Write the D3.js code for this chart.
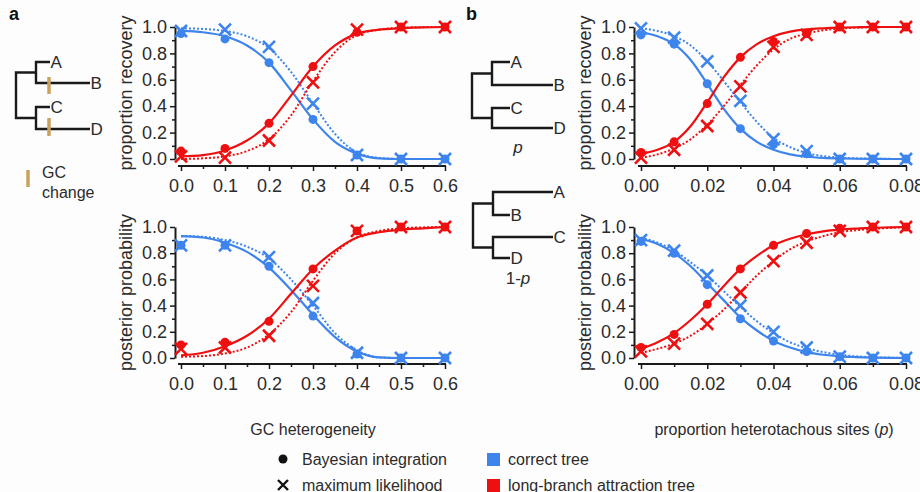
<!DOCTYPE html>
<html><head><meta charset="utf-8">
<script src="https://cdn.jsdelivr.net/npm/d3@7/dist/d3.min.js"></script>
<style>
body{margin:0;background:#fff;}
svg text{font-family:"Liberation Sans",Arial,Helvetica,sans-serif;}
</style>
</head><body>
<svg id="chart" width="920" height="492"></svg>
<script>
// ---------- data ----------
const gcLevels = [0, 0.1, 0.2, 0.3, 0.4, 0.5, 0.6];
const gcTicks = [0, 0.1, 0.2, 0.3, 0.4, 0.5, 0.6];
const hetLevels = [0, 0.01, 0.02, 0.03, 0.04, 0.05, 0.06, 0.07, 0.08];
const hetTicks = [0, 0.02, 0.04, 0.06, 0.08];
const yTicks = [0, 0.2, 0.4, 0.6, 0.8, 1.0];

// panel a, proportion recovery
const gcRecCorrectBI = [0.95, 0.91, 0.73, 0.30, 0.03, 0.0, 0.0];
const gcRecCorrectML = [0.97, 0.98, 0.85, 0.42, 0.03, 0.0, 0.0];
const gcRecLbaBI     = [0.06, 0.08, 0.27, 0.70, 0.96, 1.0, 1.0];
const gcRecLbaML     = [0.02, 0.01, 0.14, 0.58, 0.98, 1.0, 1.0];
// panel a, posterior probability
const gcPostCorrectBI = [0.86, 0.86, 0.70, 0.32, 0.03, 0.0, 0.0];
const gcPostCorrectML = [0.86, 0.86, 0.77, 0.42, 0.04, 0.0, 0.0];
const gcPostLbaBI     = [0.10, 0.12, 0.28, 0.68, 0.97, 1.0, 1.0];
const gcPostLbaML     = [0.07, 0.08, 0.17, 0.55, 0.97, 1.0, 1.0];

// panel a fitted curves
const gcFitX = [0, 0.05, 0.1, 0.15, 0.2, 0.25, 0.3, 0.35, 0.4, 0.45, 0.5, 0.55, 0.6];
const gcRecCorrectBIFit = [0.97, 0.96, 0.93, 0.86, 0.73, 0.52, 0.30, 0.13, 0.04, 0.005, 0, 0, 0];
const gcRecCorrectMLFit = [0.99, 0.985, 0.97, 0.93, 0.84, 0.66, 0.42, 0.19, 0.05, 0.008, 0, 0, 0];
const gcRecLbaBIFit     = [0.02, 0.03, 0.065, 0.14, 0.27, 0.48, 0.70, 0.86, 0.95, 0.98, 0.99, 0.997, 1];
const gcRecLbaMLFit     = [0.0, 0.005, 0.02, 0.06, 0.15, 0.33, 0.59, 0.81, 0.94, 0.98, 0.995, 0.999, 1];
const gcPostCorrectBIFit = [0.93, 0.92, 0.88, 0.81, 0.69, 0.52, 0.33, 0.16, 0.05, 0.005, 0, 0, 0];
const gcPostCorrectMLFit = [0.93, 0.925, 0.90, 0.85, 0.76, 0.60, 0.40, 0.19, 0.06, 0.005, 0, 0, 0];
const gcPostLbaBIFit     = [0.02, 0.04, 0.09, 0.17, 0.30, 0.49, 0.68, 0.82, 0.92, 0.96, 0.98, 0.99, 1.0];
const gcPostLbaMLFit     = [0.01, 0.015, 0.035, 0.08, 0.18, 0.35, 0.59, 0.80, 0.92, 0.97, 0.99, 0.997, 1.0];

// panel b, proportion recovery
const hetRecCorrectBI = [0.94, 0.87, 0.57, 0.23, 0.11, 0.04, 0.0, 0.0, 0.0];
const hetRecCorrectML = [0.99, 0.92, 0.74, 0.44, 0.15, 0.06, 0.0, 0.0, 0.0];
const hetRecLbaBI     = [0.05, 0.13, 0.42, 0.77, 0.89, 0.95, 1.0, 1.0, 1.0];
const hetRecLbaML     = [0.01, 0.07, 0.25, 0.55, 0.85, 0.94, 1.0, 1.0, 1.0];
// panel b, posterior probability
const hetPostCorrectBI = [0.89, 0.80, 0.56, 0.30, 0.13, 0.05, 0.01, 0.0, 0.0];
const hetPostCorrectML = [0.90, 0.82, 0.63, 0.40, 0.20, 0.08, 0.01, 0.0, 0.0];
const hetPostLbaBI     = [0.08, 0.18, 0.41, 0.68, 0.86, 0.95, 0.99, 1.0, 1.0];
const hetPostLbaML     = [0.05, 0.11, 0.26, 0.50, 0.74, 0.88, 0.97, 1.0, 1.0];

// panel b fitted curves
const hetFitX = [0, 0.005, 0.01, 0.015, 0.02, 0.025, 0.03, 0.035, 0.04, 0.045, 0.05, 0.055, 0.06, 0.065, 0.07, 0.075, 0.08];
const hetRecCorrectBIFit = [0.96, 0.93, 0.87, 0.75, 0.57, 0.38, 0.23, 0.13, 0.07, 0.035, 0.017, 0.008, 0.004, 0.002, 0.001, 0, 0];
const hetRecCorrectMLFit = [0.99, 0.97, 0.93, 0.86, 0.74, 0.59, 0.43, 0.28, 0.16, 0.09, 0.045, 0.022, 0.01, 0.005, 0.002, 0.001, 0];
const hetRecLbaBIFit     = [0.04, 0.07, 0.13, 0.25, 0.43, 0.62, 0.77, 0.87, 0.93, 0.965, 0.982, 0.99, 0.995, 0.998, 1, 1, 1];
const hetRecLbaMLFit     = [0.01, 0.035, 0.08, 0.15, 0.26, 0.40, 0.56, 0.71, 0.83, 0.91, 0.95, 0.975, 0.988, 0.995, 0.998, 1, 1];
const hetPostCorrectBIFit = [0.91, 0.87, 0.80, 0.70, 0.57, 0.44, 0.31, 0.21, 0.13, 0.08, 0.045, 0.025, 0.013, 0.007, 0.003, 0.001, 0];
const hetPostCorrectMLFit = [0.92, 0.88, 0.82, 0.73, 0.63, 0.51, 0.39, 0.28, 0.19, 0.12, 0.075, 0.045, 0.025, 0.013, 0.006, 0.003, 0.001];
const hetPostLbaBIFit     = [0.07, 0.12, 0.19, 0.29, 0.41, 0.55, 0.68, 0.78, 0.86, 0.91, 0.945, 0.967, 0.98, 0.988, 0.994, 0.997, 1];
const hetPostLbaMLFit     = [0.04, 0.07, 0.11, 0.17, 0.26, 0.37, 0.50, 0.63, 0.74, 0.83, 0.89, 0.93, 0.96, 0.975, 0.985, 0.993, 1];

const legendMethods = ["Bayesian integration", "maximum likelihood"];
const legendTrees = ["correct tree", "long-branch attraction tree"];

// ---------- drawing ----------
const BLUE = "#3d84ec", RED = "#ee1010", INK = "#1a1a1a", TXT = "#2b2b2b", TAN = "#c9a35e";
const svg = d3.select("#chart");
svg.append("rect").attr("width", 920).attr("height", 492).attr("fill", "#fdfdfd");

function panel(opt) {
  const x = d3.scaleLinear().domain(opt.xDomain).range(opt.xRange);
  const y = d3.scaleLinear().domain([0, 1]).range(opt.yRange);
  const g = svg.append("g");

  // y axis
  const ya = g.append("g").attr("transform", `translate(${opt.yAxisX},0)`)
    .call(d3.axisLeft(y).tickValues(yTicks).tickFormat(d3.format(".1f")).tickSize(5).tickSizeOuter(0).tickPadding(3));
  const yMinor = g.append("g").attr("transform", `translate(${opt.yAxisX},0)`)
    .call(d3.axisLeft(y).tickValues([0.1, 0.3, 0.5, 0.7, 0.9]).tickFormat("").tickSize(3).tickSizeOuter(0));
  yMinor.select(".domain").remove();
  // x axis
  const xa = g.append("g").attr("transform", `translate(0,${opt.xAxisY})`)
    .call(d3.axisBottom(x).tickValues(opt.xTicks).tickFormat(opt.xFormat).tickSize(5).tickSizeOuter(0).tickPadding(8));
  const xMinor = g.append("g").attr("transform", `translate(0,${opt.xAxisY})`)
    .call(d3.axisBottom(x).tickValues(opt.xMinor).tickFormat("").tickSize(3).tickSizeOuter(0));
  xMinor.select(".domain").remove();
  [ya, xa, yMinor, xMinor].forEach(a => {
    a.selectAll("path.domain").attr("stroke", INK).attr("stroke-width", 2);
    a.selectAll(".tick line").attr("stroke", INK).attr("stroke-width", 1.5);
    a.selectAll(".tick text").attr("fill", TXT).attr("font-size", 18).attr("font-family", "Liberation Sans, Arial, sans-serif");
  });
  xa.select("path.domain").attr("d", `M${opt.xRange[0]-3},0H${opt.xRange[1]+1}`);

  // y label
  g.append("text").attr("transform", `translate(${opt.yLabelX},${(opt.yRange[0]+opt.yRange[1])/2}) rotate(-90)`)
    .attr("text-anchor", "middle").attr("font-size", 18).attr("fill", TXT).text(opt.yLabel);
  if (opt.xLabel) {
    g.append("text").attr("x", (opt.xRange[0]+opt.xRange[1])/2).attr("y", opt.xLabelY)
      .attr("text-anchor", "middle").attr("font-size", 16).attr("fill", TXT).text(opt.xLabel);
  }

  const line = d3.line().x(d => x(d[0])).y(d => y(d[1])).curve(d3.curveMonotoneX);
  function fit(vals, color, dotted) {
    g.append("path").datum(opt.fitX.map((v, i) => [v, vals[i]]))
      .attr("d", line).attr("fill", "none").attr("stroke", color)
      .attr("stroke-width", dotted ? 2 : 2.2)
      .attr("stroke-dasharray", dotted ? "2,2" : null);
  }
  fit(opt.fits[0], BLUE, false);
  fit(opt.fits[1], BLUE, true);
  fit(opt.fits[2], RED, false);
  fit(opt.fits[3], RED, true);

  function dots(vals, color) {
    g.append("g").selectAll("circle").data(opt.levels.map((v, i) => [v, vals[i]])).join("circle")
      .attr("cx", d => x(d[0])).attr("cy", d => y(d[1])).attr("r", 4.5).attr("fill", color);
  }
  function crosses(vals, color) {
    const s = 6;
    g.append("g").selectAll("path").data(opt.levels.map((v, i) => [v, vals[i]])).join("path")
      .attr("d", d => { const cx = x(d[0]), cy = y(d[1]);
        return `M${cx-s},${cy-s}L${cx+s},${cy+s}M${cx-s},${cy+s}L${cx+s},${cy-s}`; })
      .attr("stroke", color).attr("stroke-width", 2.6).attr("fill", "none");
  }
  dots(opt.pts[0], BLUE);
  crosses(opt.pts[1], BLUE);
  dots(opt.pts[2], RED);
  crosses(opt.pts[3], RED);
}

const fmt1 = d3.format(".1f"), fmt2 = d3.format(".2f");
const topY = [159, 27], botY = [358, 227];
const aX = [181, 445], bX = [641, 906];

panel({xDomain:[0,0.6], xRange:aX, yRange:topY, yAxisX:175, xAxisY:166, xTicks:gcTicks, xFormat:fmt1,
  xMinor:[0.05,0.15,0.25,0.35,0.45,0.55], yLabel:"proportion recovery", yLabelX:132,
  levels:gcLevels, fitX:gcFitX,
  pts:[gcRecCorrectBI, gcRecCorrectML, gcRecLbaBI, gcRecLbaML],
  fits:[gcRecCorrectBIFit, gcRecCorrectMLFit, gcRecLbaBIFit, gcRecLbaMLFit]});
panel({xDomain:[0,0.6], xRange:aX, yRange:botY, yAxisX:175, xAxisY:364, xTicks:gcTicks, xFormat:fmt1,
  xMinor:[0.05,0.15,0.25,0.35,0.45,0.55], yLabel:"posterior probability", yLabelX:132,
  xLabel:"GC heterogeneity", xLabelY:435,
  levels:gcLevels, fitX:gcFitX,
  pts:[gcPostCorrectBI, gcPostCorrectML, gcPostLbaBI, gcPostLbaML],
  fits:[gcPostCorrectBIFit, gcPostCorrectMLFit, gcPostLbaBIFit, gcPostLbaMLFit]});
panel({xDomain:[0,0.08], xRange:bX, yRange:topY, yAxisX:634, xAxisY:166, xTicks:hetTicks, xFormat:fmt2,
  xMinor:[0.01,0.03,0.05,0.07], yLabel:"proportion recovery", yLabelX:591,
  levels:hetLevels, fitX:hetFitX,
  pts:[hetRecCorrectBI, hetRecCorrectML, hetRecLbaBI, hetRecLbaML],
  fits:[hetRecCorrectBIFit, hetRecCorrectMLFit, hetRecLbaBIFit, hetRecLbaMLFit]});
panel({xDomain:[0,0.08], xRange:bX, yRange:botY, yAxisX:634, xAxisY:364, xTicks:hetTicks, xFormat:fmt2,
  xMinor:[0.01,0.03,0.05,0.07], yLabel:"posterior probability", yLabelX:591,
  xLabel:"", xLabelY:435,
  levels:hetLevels, fitX:hetFitX,
  pts:[hetPostCorrectBI, hetPostCorrectML, hetPostLbaBI, hetPostLbaML],
  fits:[hetPostCorrectBIFit, hetPostCorrectMLFit, hetPostLbaBIFit, hetPostLbaMLFit]});

// x label b with italic p
const xlb = svg.append("text").attr("x", 774).attr("y", 435).attr("text-anchor", "middle")
  .attr("font-size", 16).attr("fill", TXT);
xlb.append("tspan").text("proportion heterotachous sites (");
xlb.append("tspan").attr("font-style", "italic").text("p");
xlb.append("tspan").text(")");

// panel letters
svg.append("text").attr("x", 9).attr("y", 20).attr("font-size", 18).attr("font-weight", "bold").attr("fill", "#111").text("a");
svg.append("text").attr("x", 466).attr("y", 20).attr("font-size", 18).attr("font-weight", "bold").attr("fill", "#111").text("b");

// ---------- trees ----------
function tree(t) {
  const g = svg.append("g");
  const top = (t.y1 + t.y2) / 2, bot = (t.y3 + t.y4) / 2;
  const d = `M${t.n1},${top}H${t.r}V${bot}H${t.n1}` +
    `M${t.e1},${t.y1}H${t.n1}V${t.y2}H${t.e2}` +
    `M${t.e3},${t.y3}H${t.n1}V${t.y4}H${t.e4}`;
  g.append("path").attr("d", d).attr("fill", "none").attr("stroke", INK).attr("stroke-width", 2.4);
  const ends = [[t.e1, t.y1], [t.e2, t.y2], [t.e3, t.y3], [t.e4, t.y4]];
  ["A", "B", "C", "D"].forEach((lab, i) => {
    g.append("text").attr("x", ends[i][0] + 0.5).attr("y", ends[i][1] + 6)
      .attr("font-size", 17).attr("fill", TXT).text(lab);
  });
  return g;
}
const ta = tree({r:16, n1:36, y1:62, y2:83, y3:107, y4:129, e1:50, e2:90, e3:50, e4:90});
[[77, 94], [118, 136]].forEach(s => {
  ta.append("line").attr("x1", 49).attr("x2", 49).attr("y1", s[0]).attr("y2", s[1])
    .attr("stroke", TAN).attr("stroke-width", 3.5);
});
svg.append("line").attr("x1", 28).attr("x2", 28).attr("y1", 170).attr("y2", 187).attr("stroke", TAN).attr("stroke-width", 3.5);
svg.append("text").attr("x", 42).attr("y", 178).attr("font-size", 16).attr("fill", TXT).text("GC");
svg.append("text").attr("x", 42).attr("y", 198).attr("font-size", 16).attr("fill", TXT).text("change");

tree({r:472, n1:492, y1:62, y2:85, y3:108, y4:128, e1:510, e2:553, e3:510, e4:553});
svg.append("text").attr("x", 518).attr("y", 153).attr("text-anchor", "middle").attr("font-size", 17)
  .attr("font-style", "italic").attr("fill", TXT).text("p");
tree({r:473, n1:493, y1:192, y2:215, y3:237, y4:258, e1:553, e2:510, e3:553, e4:510});
const om = svg.append("text").attr("x", 518).attr("y", 284).attr("text-anchor", "middle").attr("font-size", 17).attr("fill", TXT);
om.append("tspan").text("1-");
om.append("tspan").attr("font-style", "italic").text("p");

// ---------- legend ----------
const lg = svg.append("g");
lg.append("circle").attr("cx", 283).attr("cy", 459).attr("r", 4.5).attr("fill", "#111");
lg.append("path").attr("d", "M278,480L288,490M278,490L288,480").attr("stroke", "#111").attr("stroke-width", 2.4);
legendMethods.forEach((t, i) => lg.append("text").attr("x", 302).attr("y", 465 + i * 26).attr("font-size", 16).attr("fill", TXT).text(t));
[BLUE, RED].forEach((c, i) => lg.append("rect").attr("x", 487).attr("y", 453 + i * 26).attr("width", 13).attr("height", 13).attr("fill", c));
legendTrees.forEach((t, i) => lg.append("text").attr("x", 508).attr("y", 465 + i * 26).attr("font-size", 16).attr("fill", TXT).text(t));
</script>
</body></html>
